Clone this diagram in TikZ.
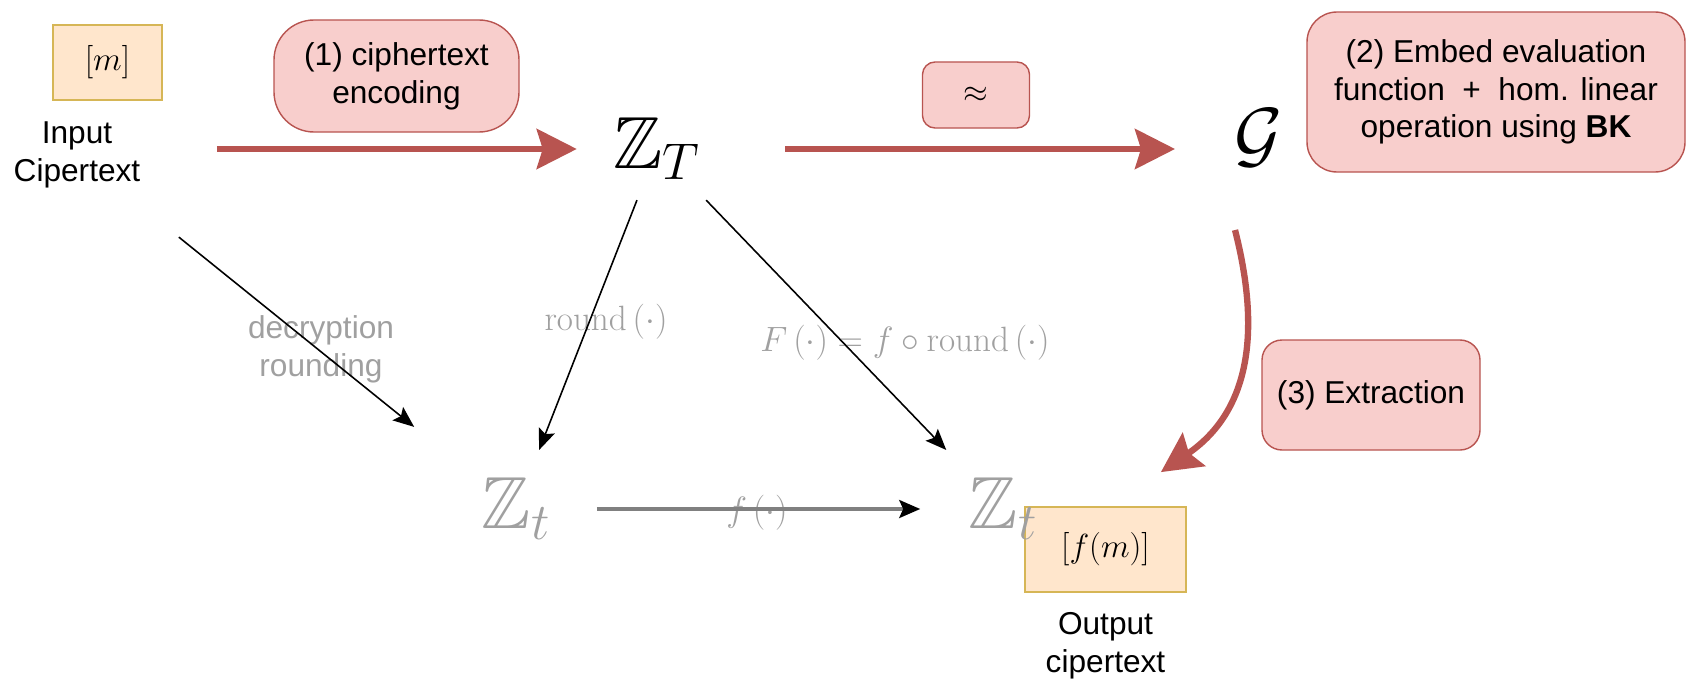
\RequirePackage{fix-cm}
\documentclass[tikz,border=0pt]{standalone}
\usepackage{amsmath}
\usepackage{amssymb}
\usepackage[no-math]{fontspec}
\setmainfont{Liberation Sans}
\usetikzlibrary{arrows.meta, positioning, calc}
\definecolor{redfill}{HTML}{F8CECC}
\definecolor{redline}{HTML}{B85450}
\definecolor{ylwfill}{HTML}{FFE6CC}
\definecolor{ylwline}{HTML}{D6B656}
\definecolor{lblgray}{HTML}{A0A0A0}

\begin{document}
\begin{tikzpicture}[
    >=Stealth,
    txt/.style = {font=\fontsize{18}{21.5}\selectfont, align=center, inner sep=2pt},
    lbl/.style = {text=lblgray, font=\fontsize{18}{21.5}\selectfont, align=center, inner sep=2pt},
    mlbl/.style = {text=lblgray, font=\fontsize{20}{24}\selectfont, inner sep=2pt},
    ring/.style = {font=\fontsize{42}{50}\selectfont, inner sep=2pt},
    stepbox/.style = {rectangle, draw=redline, fill=redfill, line width=0.8pt, align=center, font=\fontsize{18}{21.5}\selectfont},
    ctbox/.style = {rectangle, draw=ylwline, fill=ylwfill, line width=1pt, font=\fontsize{19}{23}\selectfont},
    flow/.style = {draw=redline, line width=3.6pt, -{Stealth[length=0.8cm, width=0.8cm, inset=0.12cm]}},
    conn/.style = {draw=black, line width=0.9pt, -{Stealth[length=0.42cm, width=0.34cm, inset=0.08cm]}}
]
    \useasboundingbox (0,0) rectangle (33.86,13.64);
    \node [ctbox, minimum width=2.18cm, minimum height=1.5cm] (ctin) at (2.15,12.39) {$[m]$};
    \node [txt] (inlbl) at (1.54,10.54) {Input\\Cipertext};
    \node [stepbox, rounded corners=0.8cm, minimum width=4.9cm, minimum height=2.24cm] (enc) at (7.93,12.12) {(1) ciphertext\\encoding};
    \node [ring] (zT) at (13.14,10.66) {$\mathbb{Z}_T$};
    \node [stepbox, rounded corners=0.25cm, minimum width=2.14cm, minimum height=1.32cm] (approx) at (19.52,11.74) {$\approx$};
    \node [font=\fontsize{42}{50}\selectfont, inner sep=2pt] (gg) at (25.18,10.88) {$\mathcal{G}$};
    \node [stepbox, rounded corners=0.6cm, minimum width=7.56cm, minimum height=3.2cm] (embed) at (29.92,11.8) {(2) Embed evaluation\\function\ \ +\ \ hom. linear\\operation using \textbf{BK}};
    \node [stepbox, rounded corners=0.4cm, minimum width=4.36cm, minimum height=2.2cm] (extr) at (27.42,5.74) {(3) Extraction};
    \node [ctbox, minimum width=3.22cm, minimum height=1.7cm] (ctout) at (22.11,2.65) {$[f(m)]$};
    \node [txt, below=0.32cm of ctout] (outlbl) {Output\\cipertext};
    \node [ring, text=lblgray] (zl) at (10.32,3.46) {$\mathbb{Z}_t$};
    \node [ring, text=lblgray] (zr) at (20.06,3.46) {$\mathbb{Z}_t$};
    \node [lbl] (declbl) at (6.42,6.66) {decryption\\rounding};
    \node [mlbl] (rndlbl) at (12.12,7.2) {$\mathrm{round}\,(\cdot)$};
    \node [mlbl] (Flbl) at (18.1,6.78) {$F\,(\cdot) = f\circ\mathrm{round}\,(\cdot)$};
    \node [mlbl] (flbl) at (15.14,3.38) {$f\,(\cdot)$};
    \draw [flow, shorten <=1.08cm, shorten >=0.66cm] (ctin.east |- zT.west) -- (zT.west);
    \draw [flow, shorten <=1.62cm, shorten >=1.68cm] (zT.east) -- (zT.east -| gg.center);
    \draw [flow] ([xshift=-0.48cm, yshift=-1.84cm]gg.center) .. controls +(0.46,-1.8) and +(1.9,1.3) .. ([xshift=-0.52cm, yshift=0.68cm]ctout.north east);
    \draw [conn] ($(inlbl)!0.232!(zl)$) -- ($(inlbl)!0.768!(zl)$);
    \draw [conn] ($(zT)!0.142!(zl)$) -- ($(zT)!0.836!(zl)$);
    \draw [conn] ($(zT)!0.142!(zr)$) -- ($(zT)!0.836!(zr)$);
    \draw [conn, draw=gray, line width=1.8pt, -{Stealth[length=0.42cm, width=0.36cm, inset=0.08cm, color=black]}] ($(zl)!0.166!(zr)$) -- ($(zl)!0.83!(zr)$);
\end{tikzpicture}
\end{document}
